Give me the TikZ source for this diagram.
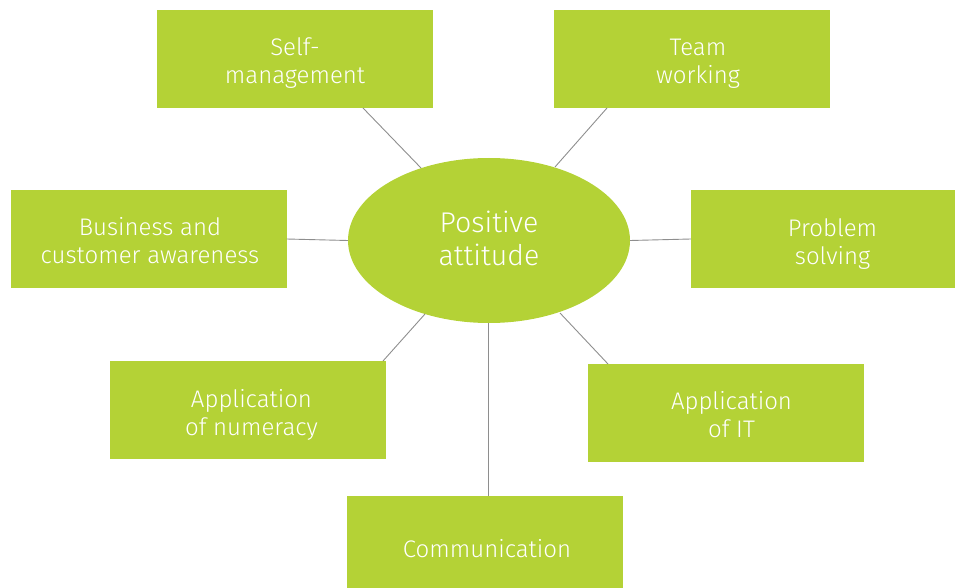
\documentclass[tikz,border=0pt]{standalone}
\usepackage{fontspec}
\setmainfont{Fira Sans Light}
\usetikzlibrary{shapes.geometric}
\definecolor{lime}{HTML}{B4D236}
\definecolor{conn}{HTML}{8E8E8E}
\newcommand{\hs}[1]{\hspace*{#1}}
\newcommand{\tl}[2]{\raisebox{#1}[\height][\depth]{\begin{tabular}{@{}c@{}}#2\end{tabular}}}
\begin{document}
\begin{tikzpicture}[x=1pt,y=-1pt,
  box/.style={fill=lime,text=white,minimum width=276pt,minimum height=98pt,
    font=\fontsize{24}{28}\selectfont,inner sep=0pt},
  hub/.style={ellipse,fill=lime,text=white,minimum width=282pt,minimum height=165pt,
    font=\fontsize{28.5}{33}\selectfont,inner sep=0pt},
  link/.style={draw=conn,line width=0.9pt}]
\useasboundingbox (0,0) rectangle (956,588);
\begin{scope}
\clip (0,0) rectangle (956,588);
\node[hub] (pa) at (489,240.5) {\tl{-1.5pt}{Positive\\attitude}};
\node[box] (sm) at (295,59) {\tl{-5pt}{Self-\\management}};
\node[box] (tw) at (692,59) {\hs{12pt}\tl{-4.5pt}{Team\\working}};
\node[box] (bc) at (148.5,239) {\hs{3pt}\tl{-5pt}{Business and\\customer awareness}};
\node[box,minimum width=264pt] (ps) at (823,239) {\hs{19pt}\tl{-6pt}{Problem\\solving}};
\node[box] (an) at (248,410) {\hs{7pt}\tl{-5.5pt}{Application\\of numeracy}};
\node[box] (ai) at (726,413) {\hs{11pt}\tl{-4.5pt}{Application\\of IT}};
\node[box] (cm) at (485,545) {\hs{4pt}\tl{-6.4pt}{Communication}};
\coordinate (sm1) at (363,108);
\coordinate (pa1) at (421,168);
\coordinate (tw1) at (607,108);
\coordinate (pa2) at (555,167);
\coordinate (an1) at (383,361);
\coordinate (pa3) at (425,314);
\coordinate (ai1) at (608,364);
\coordinate (pa4) at (560,313);
\coordinate (pa5) at (488,323);
\coordinate (cm1) at (488,496);
\draw[link] (sm1) -- (pa1);
\draw[link] (tw1) -- (pa2);
\draw[link] (an1) -- (pa3);
\draw[link] (ai1) -- (pa4);
\draw[link] (pa5) -- (cm1);
\draw[link] (bc.east) -- (pa.west);
\draw[link] (pa.east) -- (ps.west);
\end{scope}
\end{tikzpicture}
\end{document}
